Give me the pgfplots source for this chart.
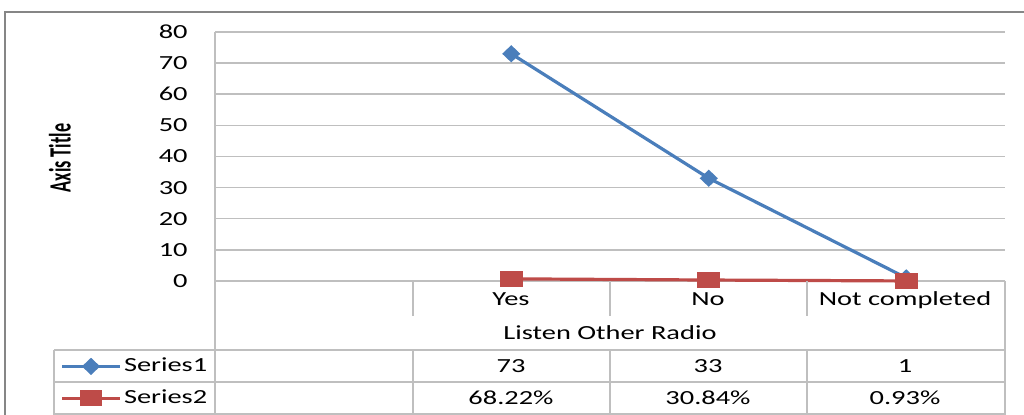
\documentclass[border=0pt]{standalone}
\usepackage{pgfplots}
\pgfplotsset{compat=1.18}
\usepackage{fontspec}
\setmainfont{Carlito}[FakeStretch=1.42]
\newfontfamily\titlefont{Carlito}
\definecolor{sblue}{HTML}{4A7EBB}
\definecolor{sred}{HTML}{BE4B48}
\definecolor{gridc}{HTML}{BFBFBF}
\definecolor{framec}{HTML}{868686}
\begin{document}
\begin{tikzpicture}[x=0.5bp,y=0.5bp,font=\fontsize{10bp}{12bp}\selectfont]
\path[use as bounding box] (0,0) rectangle (1024,415);
\begin{axis}[
  at={(107.5bp,67bp)}, anchor=south west,
  scale only axis, width=395bp, height=124.5bp,
  xmin=0, xmax=4, ymin=0, ymax=80,
  xtick=\empty, ytick={0,10,...,80},
  ymajorgrids, grid style={gridc, line width=0.75bp},
  axis line style={draw=none},
  major tick length=0pt,
  tick label style={font=\fontsize{10bp}{12bp}\selectfont},
  yticklabel style={inner sep=0pt, xshift=-13.5bp},
  /pgf/number format/assume math mode=true,
  clip=false,
  legend cell align=left,
  legend style={at={(axis description cs:-0.1962,-0.2771)}, anchor=north west,
    draw=none, fill=none, inner sep=0pt, row sep=0pt, column sep=1.2bp,
    nodes={inner sep=0pt, minimum height=16bp}},
  legend image code/.code={\draw[mark repeat=2,mark phase=2]
    plot coordinates {(0bp,0bp)(14.5bp,0bp)(29bp,0bp)};},
]
\addplot[sblue, line width=1.6bp, mark=diamond*, mark size=3.2bp,
  mark options={solid, fill=sblue, xscale=1.4}]
  coordinates {(1.5,73) (2.5,33) (3.5,1)};
\addlegendentry{Series1}
\addplot[sred, line width=1.6bp, mark=square*, mark size=3.25bp,
  mark options={solid, fill=sred, xscale=1.5}]
  coordinates {(1.5,0.6822) (2.5,0.3084) (3.5,0.0093)};
\addlegendentry{Series2}
\end{axis}
% outer chart frame
\draw[framec, line width=0.75bp] (5,0) -- (5,403) -- (1030,403);
% axis line and data table grid
\begin{scope}[gridc, line width=0.75bp]
\draw (215,383) -- (215,0);
\draw (1005,134) -- (1005,0);
\foreach \x in {413,610,807} {\draw (\x,134) -- (\x,99); \draw (\x,65) -- (\x,0);}
\foreach \y in {65,33,1} {\draw (54,\y) -- (1005,\y);}
\draw (54,65) -- (54,0);
\end{scope}
\begin{scope}[every node/.style={inner sep=0pt, text height=6.4bp, text depth=0pt}]
\node at (511,116) {Yes};
\node at (708,116) {No};
\node at (905,116) {Not completed};
\node at (610,82) {Listen Other Radio};
\node at (511,49) {73};
\node at (708,49) {33};
\node at (905,49) {1};
\node at (511,17) {68.22\%};
\node at (708,17) {30.84\%};
\node at (905,17) {0.93\%};
\end{scope}
\node[inner sep=0pt] at (60,257) {\scalebox{1.7}[1]{\rotatebox{90}{\titlefont\bfseries\fontsize{9.1bp}{11bp}\selectfont Axis Title}}};
\end{tikzpicture}
\end{document}
